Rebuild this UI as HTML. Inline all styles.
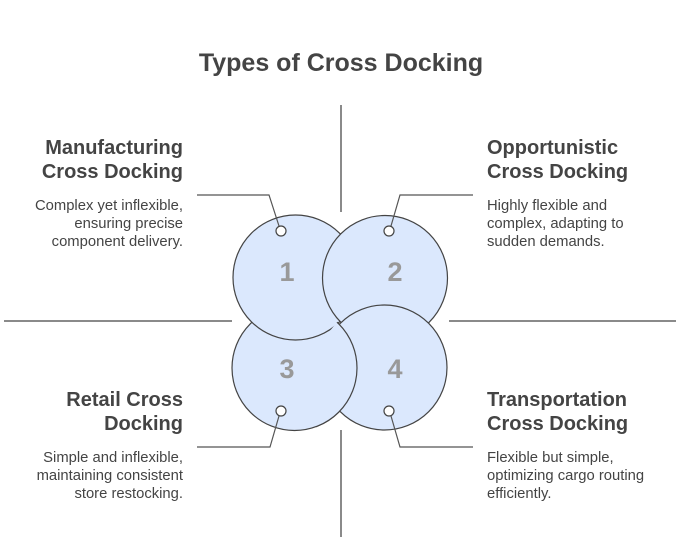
<!DOCTYPE html>
<html><head><meta charset="utf-8"><style>
html,body{margin:0;padding:0;background:#fff;}
svg{display:block;font-family:"Liberation Sans",Arial,sans-serif;}
.h{font-size:20px;font-weight:bold;fill:#444;}
.b{font-size:14.8px;fill:#444;}
.n{font-size:27px;font-weight:bold;fill:#999;text-anchor:middle;}
.c{fill:#dbe8fd;stroke:#444;stroke-width:1.2;}
.ax{stroke:#8a8a8a;stroke-width:2;fill:none;}
.ld{stroke:#555;stroke-width:1.2;fill:none;}
.s{fill:#fff;stroke:#444;stroke-width:1.2;}
</style></head><body>
<svg width="680" height="554" viewBox="0 0 680 554">
<text x="341" y="71" text-anchor="middle" style="font-size:25px;font-weight:bold;fill:#444">Types of Cross Docking</text>
<line class="ax" x1="341" y1="105" x2="341" y2="212"/>
<line class="ax" x1="341" y1="430" x2="341" y2="537"/>
<line class="ax" x1="4" y1="321" x2="232" y2="321"/>
<line class="ax" x1="449" y1="321" x2="676" y2="321"/>
<defs><clipPath id="cp"><polygon points="342,316 380,316 380,450 316,450 316,348"/></clipPath></defs>
<circle class="c" cx="294.5" cy="368" r="62.5"/>
<circle class="c" cx="295.5" cy="277.5" r="62.5"/>
<circle class="c" cx="385" cy="278" r="62.5"/>
<circle class="c" cx="384.5" cy="367.5" r="62.5"/>
<circle class="c" cx="294.5" cy="368" r="62.5" clip-path="url(#cp)"/>
<text class="n" x="287" y="281">1</text>
<text class="n" x="395" y="281">2</text>
<text class="n" x="287" y="378">3</text>
<text class="n" x="395" y="378">4</text>
<polyline class="ld" points="197,195 269,195 279,226"/>
<polyline class="ld" points="473,195 400,195 391,226"/>
<polyline class="ld" points="197,447 270,447 279,416"/>
<polyline class="ld" points="473,447 400,447 391,416"/>
<circle class="s" cx="281" cy="231" r="5"/>
<circle class="s" cx="389" cy="231" r="5"/>
<circle class="s" cx="281" cy="411" r="5"/>
<circle class="s" cx="389" cy="411" r="5"/>
<g text-anchor="end">
<text class="h" x="183" y="154">Manufacturing</text>
<text class="h" x="183" y="178">Cross Docking</text>
<text class="b" x="183" y="210">Complex yet inflexible,</text>
<text class="b" x="183" y="228">ensuring precise</text>
<text class="b" x="183" y="246">component delivery.</text>
<text class="h" x="183" y="406">Retail Cross</text>
<text class="h" x="183" y="430">Docking</text>
<text class="b" x="183" y="462">Simple and inflexible,</text>
<text class="b" x="183" y="480">maintaining consistent</text>
<text class="b" x="183" y="498">store restocking.</text>
</g>
<text class="h" x="487" y="154">Opportunistic</text>
<text class="h" x="487" y="178">Cross Docking</text>
<text class="b" x="487" y="210">Highly flexible and</text>
<text class="b" x="487" y="228">complex, adapting to</text>
<text class="b" x="487" y="246">sudden demands.</text>
<text class="h" x="487" y="406">Transportation</text>
<text class="h" x="487" y="430">Cross Docking</text>
<text class="b" x="487" y="462">Flexible but simple,</text>
<text class="b" x="487" y="480">optimizing cargo routing</text>
<text class="b" x="487" y="498">efficiently.</text>
</svg>
</body></html>
